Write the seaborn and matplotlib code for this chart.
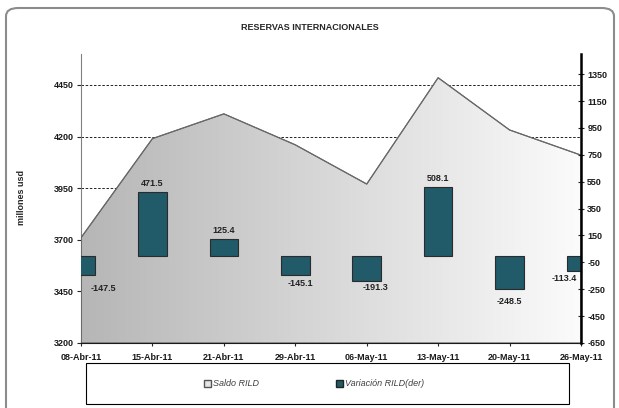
import numpy as np
import matplotlib.pyplot as plt
import seaborn as sns
from matplotlib.colors import LinearSegmentedColormap
from matplotlib.patches import Rectangle, FancyBboxPatch, Patch

# datos
fechas = ['08-Abr-11', '15-Abr-11', '21-Abr-11', '29-Abr-11',
          '06-May-11', '13-May-11', '20-May-11', '26-May-11']
saldo = [3710, 4190, 4310, 4160, 3970, 4485, 4232, 4110]
variacion = [-147.5, 471.5, 125.4, -145.1, -191.3, 508.1, -248.5, -113.4]
ticks_izq = [3200, 3450, 3700, 3950, 4200, 4450]
ticks_der = [-650, -450, -250, -50, 150, 350, 550, 750, 950, 1150, 1350]

# desplazamiento de etiquetas (puntos)
lbl_dx = [16, 0, 0, 4, 6, 0, 0, -12]
lbl_dy = [-6, 3, 3, -3, -1, 3, -6, -2]

sns.set_style('white')
plt.rcParams['font.family'] = ['Liberation Sans', 'DejaVu Sans']
plt.rcParams['axes.unicode_minus'] = False

fig = plt.figure(figsize=(6.19, 4.08), dpi=100)
ax = fig.add_axes([81/619, 1-343/408, 500/619, 289/408])
pos = np.arange(len(fechas))

#area con degradado
ax.set_xlim(0, 7)
ax.set_ylim(3200, 4600)
ax.set_axisbelow(True)
ax.yaxis.grid(True, ls=(0, (3, 2)), color='black', lw=0.6)
ax.xaxis.grid(False)
poly = ax.fill_between(pos, saldo, 3200, facecolor='none', edgecolor='#5a5a5a', lw=0.8, zorder=3)
grad = np.linspace(0, 1, 256).reshape(1, -1)
cmap = LinearSegmentedColormap.from_list('g', ['#b6b6b6', '#fbfbfb'])
im = ax.imshow(grad, extent=(0, 7, 3200, 4600), aspect='auto', cmap=cmap,
               zorder=2, origin='lower')
im.set_clip_path(poly.get_paths()[0], transform=ax.transData)
sns.lineplot(x=pos, y=saldo, ax=ax, color='#6a6a6a', lw=0.8, zorder=3)

#barras eje derecho
ax2 = ax.twinx()
sns.barplot(x=pos, y=variacion, ax=ax2, width=0.4, color='#215a68', saturation=1,
            edgecolor='#2b2b2b', linewidth=0.8)
ax2.set_ylim(-650, 1500)
ax2.set_xlim(0, 7)
for i, v in enumerate(variacion):
    ax2.annotate(f'{v:.1f}', (i, v), xytext=(lbl_dx[i], lbl_dy[i]), textcoords='offset points',
                 ha='center', va='bottom' if v > 0 else 'top',
                 fontsize=6.5, fontweight='bold', color='#222222')

ax.set_xticks(pos)
ax.set_xticklabels(fechas)
ax.set_yticks(ticks_izq)
ax2.set_yticks(ticks_der)
ax.set_xlabel('')
ax2.set_xlabel('')
ax.tick_params(axis='y', direction='out', length=3, width=0.8, labelsize=6.5, left=True, pad=2)
ax.tick_params(axis='x', direction='inout', length=4, width=0.8, labelsize=6.5, bottom=True, pad=5)
ax2.tick_params(axis='y', direction='inout', length=5, width=0.8, labelsize=6.5, right=True, pad=2)
for lab in ax.get_xticklabels() + ax.get_yticklabels() + ax2.get_yticklabels():
    lab.set_fontweight('bold')
    lab.set_color('#1a1a1a')

for s in ['top', 'right']:
    ax.spines[s].set_visible(False)
ax.spines['left'].set_color('#808080')
ax.spines['bottom'].set_color('#1a1a1a')
for s in ['top', 'left', 'bottom']:
    ax2.spines[s].set_visible(False)
ax2.spines['right'].set_color('black')
ax2.spines['right'].set_linewidth(1.8)

fig.text(0.5, 1-28/408, 'RESERVAS INTERNACIONALES', ha='center', va='center',
         fontsize=6.5, fontweight='bold')
fig.text(22/619, 1-197/408, 'millones usd', rotation=90, ha='center', va='center',
         fontsize=6.5, fontweight='bold')

# leyenda
fig.patches.append(Rectangle((86/619, 4/408), 483/619, 41/408, transform=fig.transFigure,
                             fill=False, ec='black', lw=0.8))
handles = [Patch(facecolor='#e6e6e6', edgecolor='#555555', label='Saldo RILD'),
           Patch(facecolor='#215a68', edgecolor='#222222', label='Variación RILD(der)')]
leg = fig.legend(handles=handles, loc='center', bbox_to_anchor=(314/619, 1-384/408),
                 ncol=2, frameon=False, columnspacing=8.5, handlelength=0.8,
                 handleheight=0.8, handletextpad=0.2, prop={'size': 6.5, 'style': 'italic'})
for t in leg.get_texts():
    t.set_color('#404040')

fig.patches.append(FancyBboxPatch((6/619, -0.05), 608/619, 1.05-8/408,
                                  boxstyle='round,pad=0,rounding_size=0.02',
                                  transform=fig.transFigure, fill=False,
                                  ec='#8c8c8c', lw=1.5))

plt.savefig('out.png', dpi=100)
